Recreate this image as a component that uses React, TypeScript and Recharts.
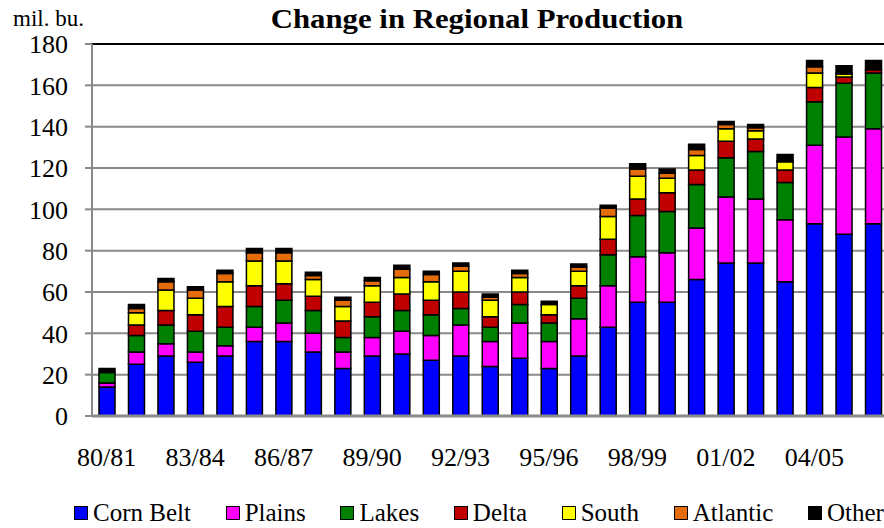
import { Bar, BarChart, CartesianGrid, ReferenceLine, XAxis, YAxis } from "recharts";

const years = [
  "80/81", "81/82", "82/83", "83/84", "84/85", "85/86", "86/87", "87/88", "88/89",
  "89/90", "90/91", "91/92", "92/93", "93/94", "94/95", "95/96", "96/97", "97/98",
  "98/99", "99/00", "00/01", "01/02", "02/03", "03/04", "04/05", "05/06", "06/07",
];

const cornBelt = [14, 25, 29, 26, 29, 36, 36, 31, 23, 29, 30, 27, 29, 24, 28, 23, 29, 43, 55, 55, 66, 74, 74, 65, 93, 88, 93];
const plains = [2, 6, 6, 5, 5, 7, 9, 9, 8, 9, 11, 12, 15, 12, 17, 13, 18, 20, 22, 24, 25, 32, 31, 30, 38, 47, 46];
const lakes = [5, 8, 9, 10, 9, 10, 11, 11, 7, 10, 10, 10, 8, 7, 9, 9, 10, 15, 20, 20, 21, 19, 23, 18, 21, 26, 27];
const delta = [0, 5, 7, 8, 10, 10, 8, 7, 8, 7, 8, 7, 8, 5, 6, 4, 6, 7.5, 8, 9, 7, 8, 6, 6, 7, 3, 1.5];
const south = [0, 6, 10, 8, 12, 12, 11, 8, 7, 8, 8, 9, 10, 8, 7, 5, 7, 11, 11, 7, 7, 6, 4, 4, 7, 1.5, 0];
const atlantic = [0, 2, 4, 4, 4, 4, 4, 2, 3, 2.5, 4, 3.5, 2.5, 1.5, 2, 0, 2, 4, 3.5, 2.5, 3, 2, 1.5, 0.5, 3, 0.5, 0];
const other = [2, 2, 1.5, 1.5, 1.5, 2, 2, 1.5, 1.5, 1.5, 2, 1.5, 1.5, 1.5, 1.5, 1.5, 1.5, 1.5, 2.5, 2, 2.5, 1.5, 1.5, 3, 3, 3.5, 4.5];

const yTicks = [0, 20, 40, 60, 80, 100, 120, 140, 160, 180];

const series = [
  { key: "cornBelt", name: "Corn Belt", color: "#0000ff", values: cornBelt },
  { key: "plains", name: "Plains", color: "#ff00ff", values: plains },
  { key: "lakes", name: "Lakes", color: "#008000", values: lakes },
  { key: "delta", name: "Delta", color: "#c00000", values: delta },
  { key: "south", name: "South", color: "#ffff00", values: south },
  { key: "atlantic", name: "Atlantic", color: "#e46c0a", values: atlantic },
  { key: "other", name: "Other", color: "#000000", values: other },
];

const data = years.map((year, i) => {
  const row: Record<string, string | number> = { year };
  series.forEach((s) => {
    row[s.key] = s.values[i];
  });
  return row;
});

const font = '"Liberation Serif", serif';
const grey = "#8a8a8a";

export default function App() {
  return (
    <div
      style={{
        position: "fixed",
        left: 0,
        top: 0,
        width: 884,
        height: 528,
        overflow: "hidden",
        background: "#fff",
        fontFamily: font,
      }}
    >
      <div style={{ position: "absolute", left: 13, top: 7, fontSize: 23, lineHeight: "23px" }}>mil. bu.</div>
      <div
        style={{
          position: "absolute",
          left: 0,
          width: 954,
          top: 6,
          textAlign: "center",
          fontSize: 27,
          lineHeight: "27px",
          fontWeight: "bold",
          transform: "scaleX(1.14)",
          transformOrigin: "477px 0",
        }}
      >
        Change in Regional Production
      </div>

      <BarChart
        width={888}
        height={528}
        data={data}
        margin={{ top: 44, right: 0, bottom: 52, left: 0 }}
        barSize={16}
        style={{ position: "absolute", left: 0, top: 0 }}
      >
        <CartesianGrid vertical={false} stroke={grey} strokeWidth={2} />
        <XAxis
          dataKey="year"
          interval={2}
          tickLine={false}
          tickSize={0}
          tickMargin={32}
          height={60}
          stroke={grey}
          strokeWidth={3}
          tick={{ fill: "#000", fontSize: 26, fontFamily: font }}
        />
        <YAxis
          domain={[0, 180]}
          ticks={yTicks}
          width={92}
          tickSize={7}
          tickMargin={17}
          stroke={grey}
          strokeWidth={2}
          tick={{ fill: "#000", fontSize: 26, fontFamily: font }}
        />
        <ReferenceLine y={180} stroke="#000" strokeWidth={2} />
        {series.map((s) => (
          <Bar
            key={s.key}
            dataKey={s.key}
            name={s.name}
            stackId="a"
            fill={s.color}
            stroke="#000"
            strokeWidth={1.5}
            isAnimationActive={false}
          />
        ))}
      </BarChart>

      <div
        style={{
          position: "absolute",
          left: 74,
          width: 810,
          top: 500,
          display: "flex",
          justifyContent: "space-between",
          fontSize: 25,
          lineHeight: "25px",
          whiteSpace: "nowrap",
        }}
      >
        {series.map((s) => (
          <div key={s.key} style={{ display: "flex", alignItems: "center" }}>
            <span
              style={{
                display: "inline-block",
                width: 12,
                height: 12,
                background: s.color,
                border: "1.5px solid #000",
                marginRight: 5,
              }}
            />
            <span>{s.name}</span>
          </div>
        ))}
      </div>
    </div>
  );
}
